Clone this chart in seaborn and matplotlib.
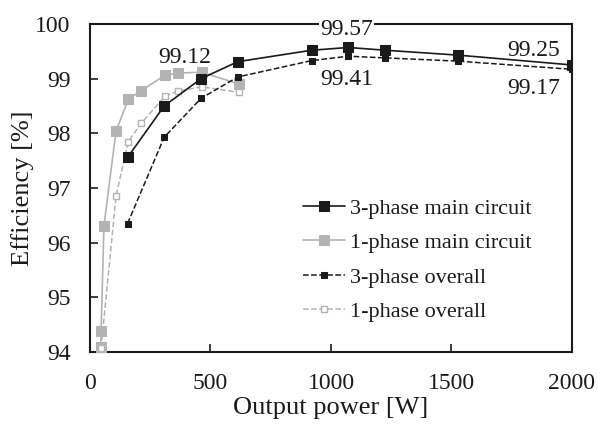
import matplotlib
matplotlib.use("Agg")
import matplotlib.pyplot as plt
import seaborn as sns
import pandas as pd

p3 = [156, 308, 461, 613, 920, 1072, 1224, 1528, 2000]
eff3_main = [97.56, 98.50, 99.00, 99.31, 99.52, 99.57, 99.52, 99.43, 99.25]
eff3_all = [96.35, 97.93, 98.64, 99.03, 99.33, 99.41, 99.38, 99.32, 99.17]

p1_main = [45, 46, 58, 108, 159, 212, 311, 364, 463, 618]
eff1_main = [94.10, 94.38, 96.31, 98.04, 98.62, 98.78, 99.06, 99.10, 99.12, 98.90]

p1_all = [46, 108, 159, 212, 311, 364, 463, 618]
eff1_all = [94.07, 96.85, 97.85, 98.18, 98.68, 98.77, 98.85, 98.75]

x_ticks = [0, 500, 1000, 1500, 2000]
y_ticks = [94, 95, 96, 97, 98, 99, 100]

sns.set_style("ticks")
plt.rcParams['font.family'] = ['Liberation Serif', 'DejaVu Serif']

BLACK = '#1a1a1a'
GRAY = '#b3b3b3'

fig = plt.figure(figsize=(5.98, 4.28), dpi=100)
ax = fig.add_axes([0.1505, 0.1776, 0.806, 0.7664])

df3m = pd.DataFrame({'P': p3, 'eff': eff3_main})
df1m = pd.DataFrame({'P': p1_main, 'eff': eff1_main})
df3a = pd.DataFrame({'P': p3, 'eff': eff3_all})
df1a = pd.DataFrame({'P': p1_all, 'eff': eff1_all})

sns.lineplot(data=df3m, x='P', y='eff', sort=False, ax=ax, color=BLACK, lw=1.2,
             marker='s', markersize=7, mfc=BLACK, mec=BLACK, label='3-phase main circuit', zorder=4)
sns.lineplot(data=df1m, x='P', y='eff', sort=False, ax=ax, color=GRAY, lw=1.2,
             marker='s', markersize=7.5, mfc=GRAY, mec=GRAY, label='1-phase main circuit', zorder=3)
sns.lineplot(data=df3a, x='P', y='eff', sort=False, ax=ax, color=BLACK, lw=1.1, linestyle='--',
             marker='s', markersize=5, mfc=BLACK, mec=BLACK, label='3-phase overall', zorder=4)
sns.lineplot(data=df1a, x='P', y='eff', sort=False, ax=ax, color=GRAY, lw=1.1, linestyle='--',
             marker='s', markersize=4.5, mfc='white', mec=GRAY, mew=1.0, label='1-phase overall', zorder=3)

ax.set_xlim(0, 2000)
ax.set_ylim(94, 100)
ax.set_xticks(x_ticks)
ax.set_yticks(y_ticks)
ax.tick_params(direction='in', length=6, width=1.2, labelsize=17, colors=BLACK)
ax.tick_params(axis='y', pad=14)
ax.tick_params(axis='x', pad=15)
for s in ax.spines.values():
    s.set_linewidth(1.5)
    s.set_color(BLACK)

ax.set_xlabel('Output power [W]', fontsize=19, color=BLACK, labelpad=2)
ax.set_ylabel('Efficiency [%]', fontsize=19, color=BLACK, labelpad=1)

txt = dict(fontsize=17, color=BLACK, ha='center', va='center')
ax.text(394, 99.38, '99.12', **txt)
ax.text(1065, 99.90, '99.57', bbox=dict(facecolor='white', edgecolor='none', pad=1), zorder=6,
        clip_on=False, **txt)
ax.text(1065, 98.98, '99.41', **txt)
ax.text(1840, 99.52, '99.25', **txt)
ax.text(1840, 98.82, '99.17', **txt)

leg = ax.legend(loc='center left', bbox_to_anchor=(0.442, 0.28), frameon=False, fontsize=16,
                handlelength=1.9, handletextpad=0.2, labelspacing=0.62, borderaxespad=0, borderpad=0)
for t in leg.get_texts():
    t.set_color(BLACK)

fig.savefig('out.png', dpi=100)
